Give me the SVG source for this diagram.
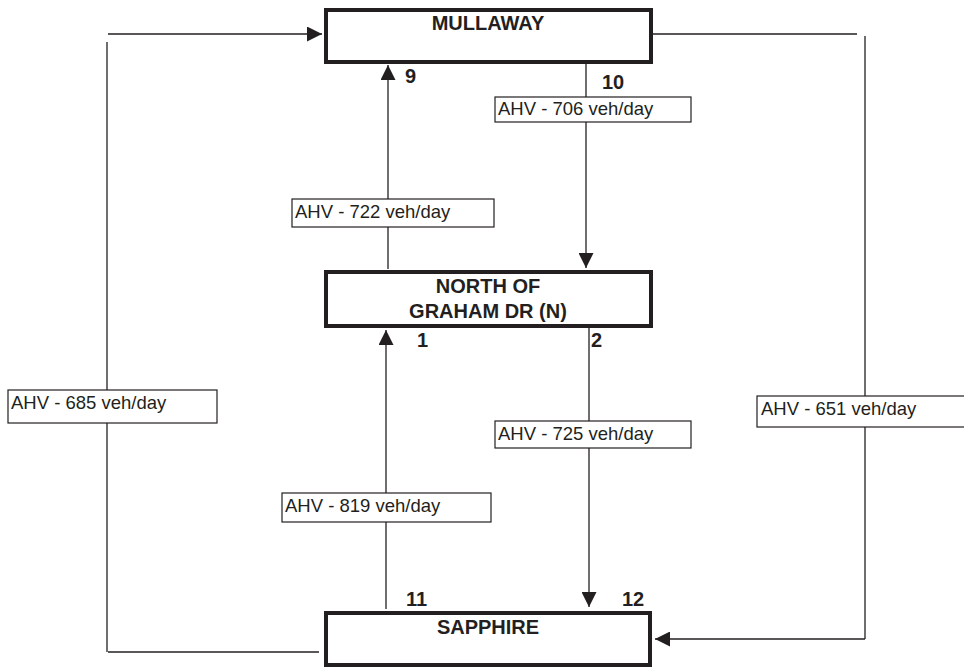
<svg xmlns="http://www.w3.org/2000/svg" width="964" height="668" viewBox="0 0 964 668">
<defs>
<marker id="ah" viewBox="0 0 10 10" refX="10" refY="5" markerWidth="15" markerHeight="15" markerUnits="userSpaceOnUse" orient="auto">
<path d="M0,0 L10,5 L0,10 Z" fill="#231f20"/>
</marker>
</defs>
<style>
.node rect{fill:#fff;stroke:#231f20;stroke-width:4}
.node text{font-family:"Liberation Sans",Arial,sans-serif;font-weight:bold;font-size:20px;fill:#231f20;text-anchor:middle}
.conn line,.conn polyline{stroke:#231f20;stroke-width:1.3;fill:none}
.lbl rect{fill:#fff;stroke:#231f20;stroke-width:1.2}
.lbl text{font-family:"Liberation Sans",Arial,sans-serif;font-size:18.5px;fill:#231f20}
.num{font-family:"Liberation Sans",Arial,sans-serif;font-weight:bold;font-size:20px;fill:#231f20}
</style>
<rect width="964" height="668" fill="#fff"/>
<g id="connectors" class="conn">
<polyline points="108,34 322,34" marker-end="url(#ah)"/>
<line x1="107" y1="42" x2="107" y2="652"/>
<line x1="108" y1="652" x2="319" y2="652"/>
<line x1="650" y1="34" x2="857" y2="34"/>
<line x1="865" y1="36" x2="865" y2="639"/>
<polyline points="865,639 655,639" marker-end="url(#ah)"/>
<polyline points="388,269 388,65" marker-end="url(#ah)"/>
<polyline points="586,63 586,268" marker-end="url(#ah)"/>
<polyline points="386,609 386,330" marker-end="url(#ah)"/>
<polyline points="589,327 589,607" marker-end="url(#ah)"/>
</g>
<g id="mullaway" class="node">
<rect x="326" y="10" width="325" height="52"/>
<text x="488" y="30">MULLAWAY</text>
</g>
<g id="north-of-graham" class="node">
<rect x="326" y="272" width="325" height="54"/>
<text x="488" y="293">NORTH OF</text>
<text x="488" y="318">GRAHAM DR (N)</text>
</g>
<g id="sapphire" class="node">
<rect x="326" y="613" width="324" height="52"/>
<text x="488" y="634">SAPPHIRE</text>
</g>
<g id="numbers">
<text class="num" x="405" y="83">9</text>
<text class="num" x="602" y="89">10</text>
<text class="num" x="417" y="347">1</text>
<text class="num" x="591" y="347">2</text>
<text class="num" x="406" y="606">11</text>
<text class="num" x="622" y="606">12</text>
</g>
<g id="labels" class="lbl">
<g id="lbl-706"><rect x="495" y="97" width="196" height="25"/><text x="498" y="115">AHV - 706 veh/day</text></g>
<g id="lbl-722"><rect x="292" y="199" width="202" height="28"/><text x="295" y="218">AHV - 722 veh/day</text></g>
<g id="lbl-685"><rect x="8" y="390" width="209" height="33"/><text x="11" y="409">AHV - 685 veh/day</text></g>
<g id="lbl-651"><rect x="757" y="396" width="210" height="31"/><text x="761" y="415">AHV - 651 veh/day</text></g>
<g id="lbl-725"><rect x="495" y="421" width="196" height="27"/><text x="498" y="440">AHV - 725 veh/day</text></g>
<g id="lbl-819"><rect x="282" y="493" width="209" height="29"/><text x="285" y="512">AHV - 819 veh/day</text></g>
</g>
</svg>
